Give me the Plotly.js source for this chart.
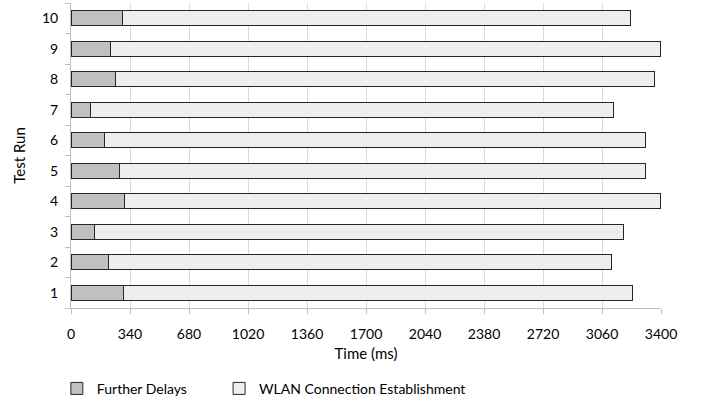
<!DOCTYPE html>
<html>
<head>
<meta charset="utf-8">
<script src="https://cdn.plot.ly/plotly-3.0.1.min.js"></script>
<style>html,body{margin:0;padding:0;background:#fff;}#chart{width:710px;height:408px;}</style>
</head>
<body>
<div id="chart"></div>
<script>
var testRuns = ['1','2','3','4','5','6','7','8','9','10'];
var furtherDelays = [302, 215, 134, 311, 277, 194, 110, 254, 230, 294];
var wlanConnection = [2935, 2901, 3049, 3086, 3035, 3118, 3016, 3108, 3167, 2932];
var xTickValues = [0, 340, 680, 1020, 1360, 1700, 2040, 2380, 2720, 3060, 3400];

var FONT = 'Lato, "Open Sans", sans-serif';

var traces = [
  {
    type: 'bar', orientation: 'h', name: 'Further Delays',
    y: testRuns, x: furtherDelays, legend: 'legend',
    marker: {color: '#c0c0c0', line: {color: '#262626', width: 1}},
    hoverinfo: 'skip'
  },
  {
    type: 'bar', orientation: 'h', name: 'WLAN Connection Establishment',
    y: testRuns, x: wlanConnection, legend: 'legend2',
    marker: {color: '#eeeeee', line: {color: '#262626', width: 1}},
    hoverinfo: 'skip'
  }
];

var legendBase = {
  orientation: 'h', y: -0.265, yanchor: 'middle', xanchor: 'left',
  font: {family: FONT, size: 14, color: '#000'},
  bgcolor: 'rgba(0,0,0,0)', borderwidth: 0
};

var layout = {
  width: 710, height: 408,
  margin: {l: 71, r: 49, t: 3, b: 95},
  paper_bgcolor: '#ffffff', plot_bgcolor: '#ffffff',
  barmode: 'stack', bargap: 0.5,
  font: {family: FONT, size: 13, color: '#000000'},
  xaxis: {
    range: [0, 3400], tickvals: xTickValues, ticktext: xTickValues.map(String),
    showgrid: true, gridcolor: '#d9d9d9', gridwidth: 1,
    showline: true, linecolor: '#bfbfbf', linewidth: 1,
    ticks: 'outside', ticklen: 5, tickcolor: '#bfbfbf', ticklabelstandoff: 8,
    zeroline: false, fixedrange: true,
    tickfont: {family: FONT, size: 14, color: '#000'},
    title: {text: 'Time (ms)', font: {family: FONT, size: 15, color: '#000'}, standoff: 7}
  },
  yaxis: {
    type: 'category', categoryorder: 'array', categoryarray: testRuns,
    showgrid: false,
    showline: true, linecolor: '#bfbfbf', linewidth: 1,
    ticks: 'outside', ticklen: 5, tickcolor: '#bfbfbf', tickson: 'boundaries',
    ticklabelstandoff: 9,
    zeroline: false, fixedrange: true,
    tickfont: {family: FONT, size: 14, color: '#000'},
    title: {text: 'Test Run', font: {family: FONT, size: 15, color: '#000'}, standoff: 12}
  },
  showlegend: true,
  legend: Object.assign({}, legendBase, {x: -0.024}),
  legend2: Object.assign({}, legendBase, {x: 0.251})
};

Plotly.newPlot('chart', traces, layout, {displayModeBar: false, staticPlot: true});
</script>
</body>
</html>
